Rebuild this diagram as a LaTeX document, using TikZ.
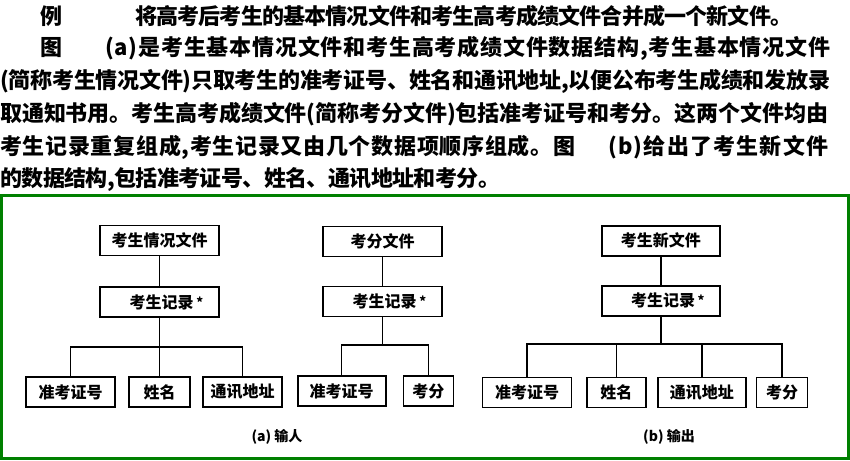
\documentclass[tikz,border=0pt]{standalone}
\usepackage{fontspec}
\setmainfont{Noto Sans CJK SC}
\def\spr#1{\ifx\relax#1\else#1\hskip0pt plus 1fil minus 3pt\expandafter\spr\fi}
\newcommand\jline[2]{\hbox to #1{\spr#2\relax\unskip}}
\definecolor{framegreen}{RGB}{0,128,0}
\tikzset{
  body/.style={anchor=west, inner sep=0pt, font=\fontsize{22}{22}\selectfont\bfseries},
  box/.style={draw, line width=1.6pt, inner sep=0pt, minimum height=30pt,
              font=\fontsize{16}{16}\selectfont\bfseries},
  conn/.style={line width=1.5pt},
  captext/.style={inner sep=0pt, font=\fontsize{14}{14}\selectfont\bfseries}
}
\newcommand\recstar{{\fontsize{13}{13}\selectfont\raisebox{1pt}{*}}}
\begin{document}
\begin{tikzpicture}[x=1pt, y=-1pt]
\useasboundingbox (0,0) rectangle (850,460);
% paragraph
\node[body] (t1a) at (40,16) {例};
\node[body] (t1b) at (135,16) {\jline{657pt}{将高考后考生的基本情况文件和考生高考成绩文件合并成一个新文件。}};
\node[body] (t2a) at (40,48) {图};
\node[body] (t2b) at (105,48) {\jline{725pt}{(a)是考生基本情况文件和考生高考成绩文件数据结构,考生基本情况文件}};
\node[body] (t3) at (0,81) {\jline{830pt}{(简称考生情况文件)只取考生的准考证号、姓名和通讯地址,以便公布考生成绩和发放录}};
\node[body] (t4) at (0,114) {\jline{828pt}{取通知书用。考生高考成绩文件(简称考分文件)包括准考证号和考分。这两个文件均由}};
\node[body] (t5a) at (0,147) {\jline{575pt}{考生记录重复组成,考生记录又由几个数据项顺序组成。图}};
\node[body] (t5b) at (608,147) {\jline{220pt}{(b)给出了考生新文件}};
\node[body] (t6) at (0,180) {\jline{500pt}{的数据结构,包括准考证号、姓名、通讯地址和考分。}};
% frame
\draw[framegreen, line width=3pt] (1.7,195.5) rectangle (848,458);
% tree a1
\node[box, minimum width=119pt] (F1) at (159.5,240.5) {考生情况文件};
\node[box, minimum width=119pt] (R1) at (159.5,302) {\hspace*{14pt}考生记录\,\recstar};
\node[box, minimum width=89pt] (A1) at (70.5,392) {准考证号};
\node[box, minimum width=61pt] (N1) at (159.5,392) {姓名};
\node[box, minimum width=79pt] (C1) at (242.5,392) {通讯地址};
\coordinate (b1) at (159.5,347);
\draw[conn] (F1) -- (R1);
\draw[conn] (R1) -- (N1);
\draw[conn] (A1.north) |- (C1.north |- b1) -- (C1.north);
% tree a2
\node[box, minimum width=119pt] (F2) at (382.5,241.5) {考分文件};
\node[box, minimum width=119pt] (R2) at (382.5,301.5) {\hspace*{14pt}考生记录\,\recstar};
\node[box, minimum width=88pt] (A2) at (341.7,391) {准考证号};
\node[box, minimum width=50pt] (S2) at (428.3,391) {考分};
\coordinate (b2) at (382.5,345);
\draw[conn] (F2) -- (R2);
\draw[conn] (R2.south) -- (b2);
\draw[conn] (A2.north) |- (S2.north |- b2) -- (S2.north);
% tree b
\node[box, minimum width=118pt] (F3) at (660.8,240.7) {考生新文件};
\node[box, minimum width=118pt] (R3) at (660.8,300.7) {\hspace*{14pt}考生记录\,\recstar};
\node[box, minimum width=89pt] (A3) at (527,392.3) {准考证号};
\node[box, minimum width=59pt] (N3) at (616.4,392.3) {姓名};
\node[box, minimum width=88pt] (C3) at (701.8,392.3) {通讯地址};
\node[box, minimum width=51pt] (S3) at (782,392.3) {考分};
\coordinate (b3) at (660.8,344);
\draw[conn] (F3) -- (R3);
\draw[conn] (R3.south) -- (b3);
\draw[conn] (A3.north) |- (S3.north |- b3) -- (S3.north);
\draw[conn] (N3.north) -- (N3.north |- b3);
\draw[conn] (C3.north) -- (C3.north |- b3);
% captions
\node[captext] (capa) at (277,437) {(a) 输人};
\node[captext] (capb) at (669,437) {(b) 输出};
\end{tikzpicture}
\end{document}
